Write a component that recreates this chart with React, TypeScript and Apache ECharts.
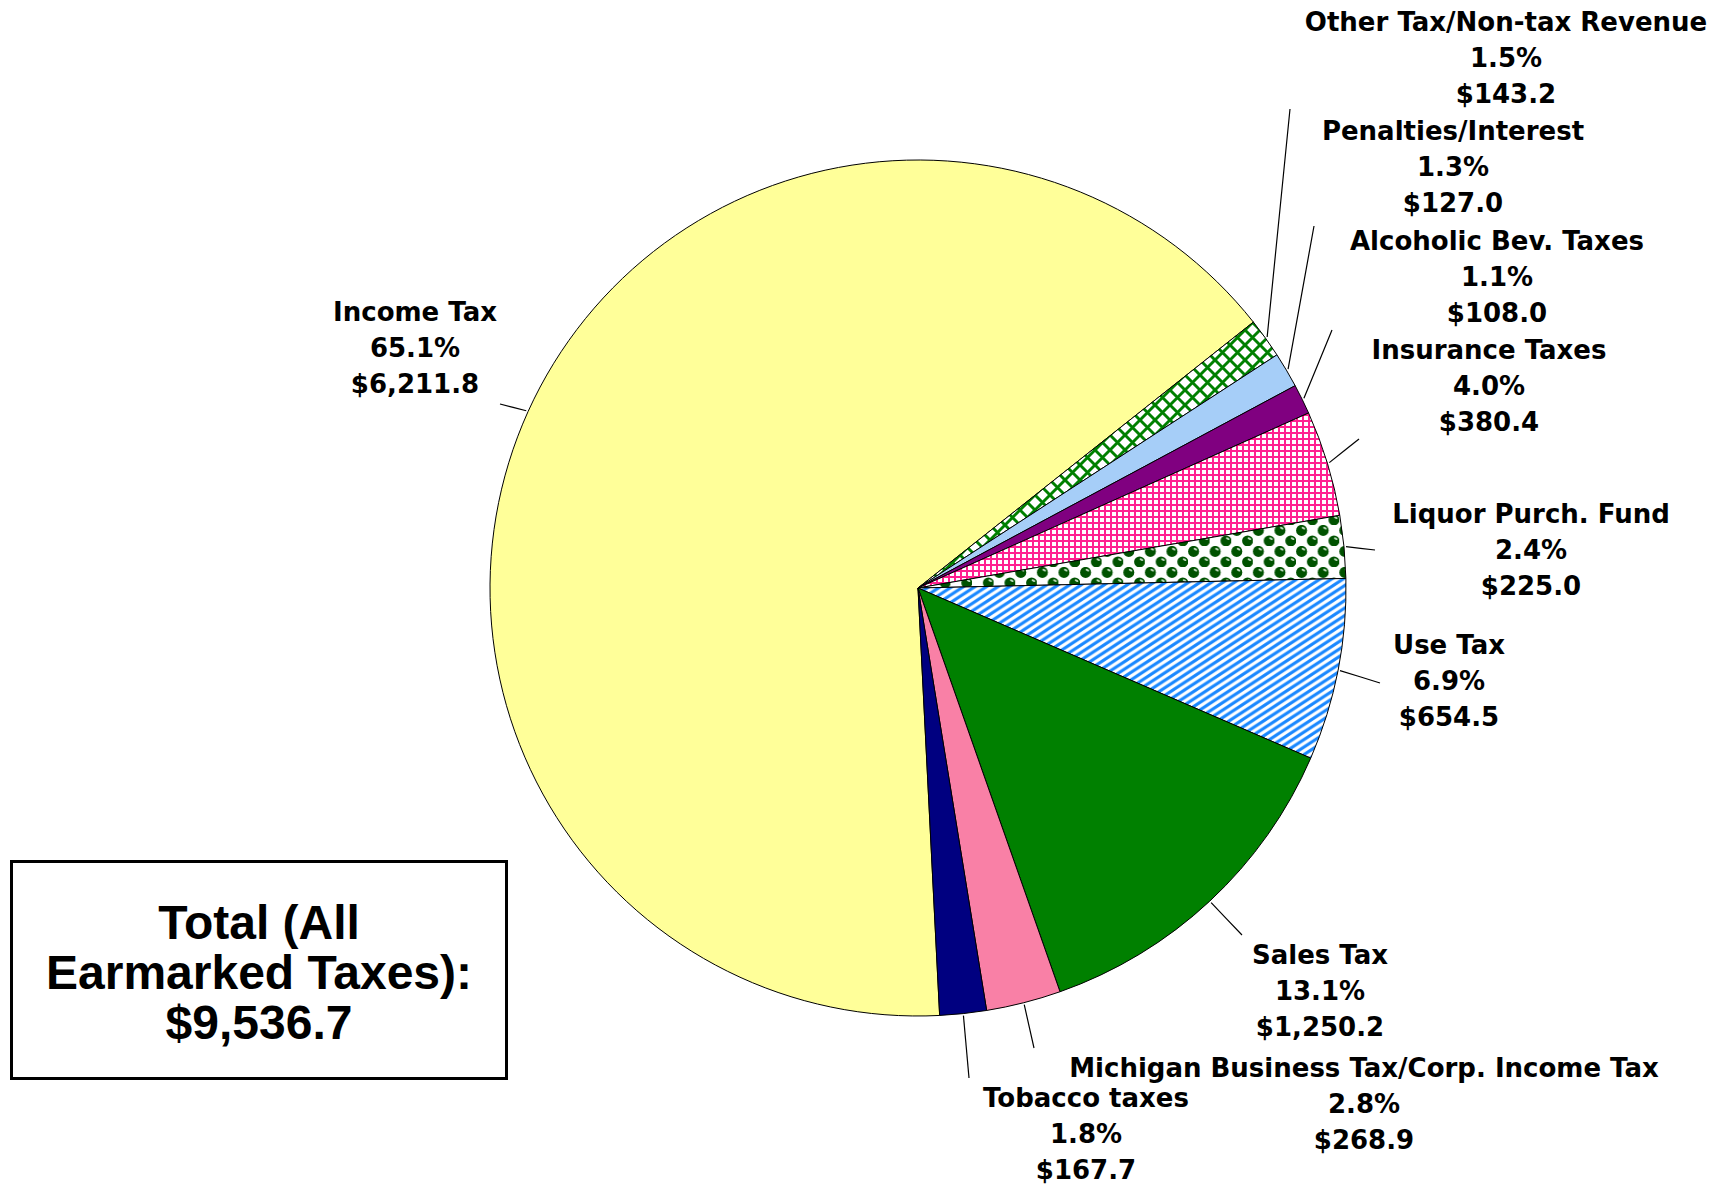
import React, { useEffect, useRef } from 'react';
import * as echarts from 'echarts';

// ---------- data ----------
const categories = [
  'Income Tax',
  'Other Tax/Non-tax Revenue',
  'Penalties/Interest',
  'Alcoholic Bev. Taxes',
  'Insurance Taxes',
  'Liquor Purch. Fund',
  'Use Tax',
  'Sales Tax',
  'Michigan Business Tax/Corp. Income Tax',
  'Tobacco taxes',
];
const values = [6211.8, 143.2, 127.0, 108.0, 380.4, 225.0, 654.5, 1250.2, 268.9, 167.7];
const totalTitle = 'Total (All\nEarmarked Taxes):';

// ---------- layout ----------
const CX = 918;
const CY = 588;
const R = 428;
const START_CW_FROM_NORTH = 177.1;
// centre of each label block (middle line)
const labelCenters = [
  [415, 348], [1506, 58], [1453, 167], [1497, 277], [1489, 386],
  [1531, 550], [1449, 681], [1320, 991], [1364, 1104], [1086, 1134],
];
// outer end of each leader line
const leaderEnds = [
  [500, 404], [1290, 109], [1314, 226], [1332, 330], [1359, 439],
  [1375, 550], [1380, 683], [1242, 935], [1034, 1048], [969, 1078],
];

// ---------- patterns ----------
const svgUrl = (w: number, h: number, body: string) =>
  'data:image/svg+xml;charset=utf-8,' +
  encodeURIComponent(
    `<svg xmlns="http://www.w3.org/2000/svg" width="${w}" height="${h}" viewBox="0 0 ${w} ${h}"><rect x="0" y="0" width="${w}" height="${h}" fill="#ffffff"/>${body}</svg>`
  );
const pattern = (w: number, h: number, body: string) => ({
  image: svgUrl(w, h, body),
  repeat: 'repeat',
  imageWidth: w,
  imageHeight: h,
});

function crossHatch() {
  const w = 15;
  let d = '';
  for (const k of [-1, 0, 1]) {
    d += `M${-w},${-w + w * k} L${2 * w},${2 * w + w * k} M${-w},${2 * w + w * k} L${2 * w},${-w + w * k} `;
  }
  return pattern(w, w, `<path d="${d}" stroke="#008000" stroke-width="2.9" fill="none"/>`);
}
function grid() {
  const c = '#FF2090';
  return pattern(6, 6, `<rect x="0" y="0" width="6" height="2" fill="${c}"/><rect x="0" y="0" width="2" height="6" fill="${c}"/>`);
}
function balls() {
  const w = 21.6, h = 21;
  const ball = (x: number, y: number) =>
    `<circle cx="${x}" cy="${y}" r="5.5" fill="#005200"/>` +
    `<ellipse cx="${x + 1.8}" cy="${y - 2.2}" rx="2.0" ry="1.0" transform="rotate(30 ${x + 1.8} ${y - 2.2})" fill="#bfdcbf"/>`;
  return pattern(w, h, ball(5.6, 5.4) + ball(16.4, 15.9));
}
function stripes() {
  const W = 11.5, H = 7.5;
  let d = '';
  for (const k of [-1, 0, 1, 2]) {
    d += `M${-W},${2 * H + k * H} L${2 * W},${-H + k * H} `;
  }
  return pattern(W, H, `<path d="${d}" stroke="#1A88FF" stroke-width="3.1" fill="none"/>`);
}

const colors: any[] = [
  '#FFFF99',
  crossHatch(),
  '#A6CEF8',
  '#800080',
  grid(),
  balls(),
  stripes(),
  '#008000',
  '#F980A6',
  '#000080',
];

const fmt = (v: number) =>
  v.toLocaleString('en-US', { minimumFractionDigits: 1, maximumFractionDigits: 1 });

export default function App() {
  const ref = useRef<HTMLDivElement>(null);

  useEffect(() => {
    document.body.style.margin = '0';
    if (!ref.current) return;
    const chart = echarts.init(ref.current, null, { renderer: 'svg' });
    const total = values.reduce((a, b) => a + b, 0);
    const midAngles: number[] = [];
    let acc = 0;
    values.forEach((v) => {
      midAngles.push(START_CW_FROM_NORTH + ((acc + v / 2) / total) * 360);
      acc += v;
    });

    const option: any = {
      animation: false,
      backgroundColor: '#ffffff',
      series: [
        {
          type: 'pie',
          center: [CX, CY],
          radius: R,
          startAngle: 90 - START_CW_FROM_NORTH,
          clockwise: true,
          avoidLabelOverlap: false,
          silent: true,
          itemStyle: { borderColor: '#000000', borderWidth: 1 },
          label: {
            show: true,
            position: 'outside',
            color: '#000000',
            fontFamily: 'DejaVu Sans',
            fontWeight: 'bold',
            fontSize: 26,
            lineHeight: 36,
            width: 800,
            overflow: 'none',
            align: 'center',
            formatter: (p: any) =>
              `${p.name}\n${((p.value / total) * 100).toFixed(1)}%\n$${fmt(p.value)}`,
          },
          labelLine: {
            show: true,
            length: 10,
            length2: 10,
            lineStyle: { color: '#000000', width: 1.2 },
          },
          labelLayout: (params: any) => {
            const i = params.dataIndex;
            const a = (midAngles[i] * Math.PI) / 180;
            const sx = CX + (R + 2) * Math.sin(a);
            const sy = CY - (R + 2) * Math.cos(a);
            const [ex, ey] = leaderEnds[i];
            const [lx, ly] = labelCenters[i];
            return {
              x: lx,
              y: ly,
              align: 'center',
              verticalAlign: 'middle',
              labelLinePoints: [
                [sx, sy],
                [(sx + ex) / 2, (sy + ey) / 2],
                [ex, ey],
              ],
            };
          },
          data: categories.map((name, i) => ({
            name,
            value: values[i],
            itemStyle: { color: colors[i] },
          })),
        },
      ],
      graphic: [
        {
          type: 'rect',
          shape: { x: 11.5, y: 861.5, width: 495, height: 217 },
          style: { fill: '#ffffff', stroke: '#000000', lineWidth: 3 },
        },
        {
          type: 'text',
          x: 259,
          y: 972,
          style: {
            text: `${totalTitle}\n$${fmt(total)}`,
            fontFamily: '"Liberation Sans", Arial, sans-serif',
            fontWeight: 'bold',
            fontSize: 48,
            lineHeight: 50,
            align: 'center',
            verticalAlign: 'middle',
            fill: '#000000',
          },
        },
      ],
    };
    chart.setOption(option);
    return () => chart.dispose();
  }, []);

  return <div ref={ref} style={{ width: 1714, height: 1185 }} />;
}
